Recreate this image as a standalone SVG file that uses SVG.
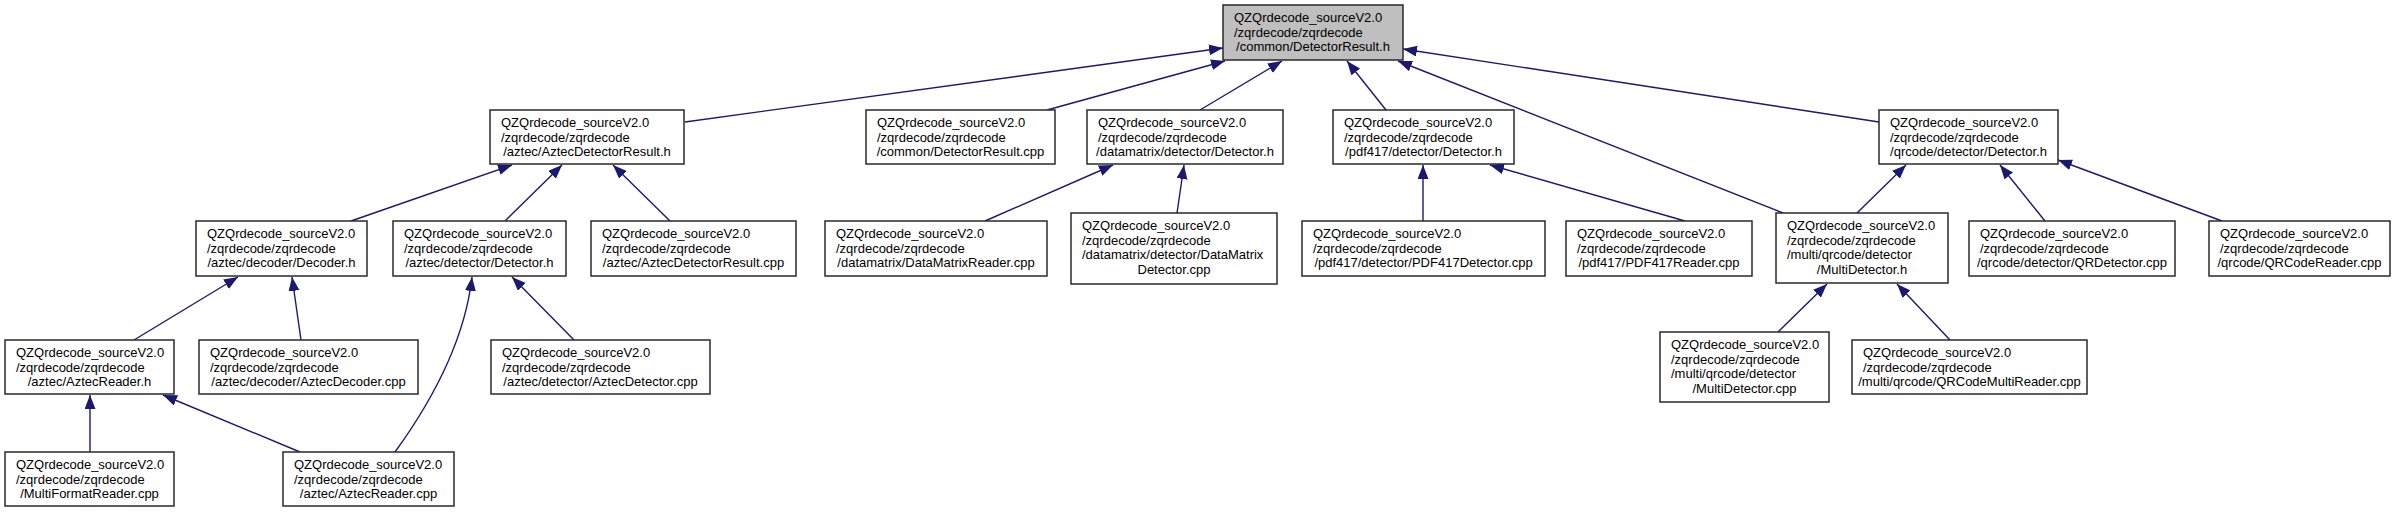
<svg xmlns="http://www.w3.org/2000/svg" width="2401" height="512" viewBox="0 0 2401 512">
<defs>
<style>
.box{fill:#ffffff;stroke:#2a2a2a;stroke-width:1.5}
.root{fill:#bfbfbf;stroke:#2a2a2a;stroke-width:1.5}
.t{font-family:"Liberation Sans",Arial,sans-serif;font-size:13px;fill:#000000}
.c{text-anchor:middle}
.e{fill:none;stroke:#191970;stroke-width:1.4;marker-end:url(#ah)}
</style>
<marker id="ah" markerUnits="userSpaceOnUse" markerWidth="15" markerHeight="12" refX="14" refY="5.5" orient="auto">
<path d="M0,0 L14,5.5 L0,11 z" fill="#191970"/>
</marker>
</defs>
<rect x="0" y="0" width="2401" height="512" fill="#ffffff"/>
<g id="edges">
<path class="e" d="M685,122 L1223,48"/>
<path class="e" d="M1047,110 L1225,61"/>
<path class="e" d="M1200,110 L1282,61"/>
<path class="e" d="M1386,110 L1347,61"/>
<path class="e" d="M1783,213 L1398,61"/>
<path class="e" d="M1879,122 L1403,49"/>
<path class="e" d="M351,221 L512,165"/>
<path class="e" d="M505,221 L562,165"/>
<path class="e" d="M670,221 L613,165"/>
<path class="e" d="M985,221 L1113,165"/>
<path class="e" d="M1177,213 L1184,165"/>
<path class="e" d="M1423,221 L1423,165"/>
<path class="e" d="M1685,221 L1490,165"/>
<path class="e" d="M1857,213 L1906,165"/>
<path class="e" d="M2045,221 L2000,165"/>
<path class="e" d="M2222,221 L2058,160"/>
<path class="e" d="M134,340 L238,277"/>
<path class="e" d="M301,340 L292,277"/>
<path class="e" d="M574,340 L512,277"/>
<path class="e" d="M395,452 C440,390 466,330 472,277"/>
<path class="e" d="M1778,332 L1827,284"/>
<path class="e" d="M1950,340 L1897,284"/>
<path class="e" d="M90,452 L90,395"/>
<path class="e" d="M300,452 L163,395"/>
</g>
<g id="n1"><rect class="root" x="1223" y="5" width="180" height="55"/><text class="t"><tspan x="1234" y="22">QZQrdecode_sourceV2.0</tspan><tspan x="1234" y="36.5">/zqrdecode/zqrdecode</tspan><tspan class="c" x="1313" y="51">/common/DetectorResult.h</tspan></text></g>
<g id="n2"><rect class="box" x="490" y="110" width="194" height="54"/><text class="t"><tspan x="501" y="127">QZQrdecode_sourceV2.0</tspan><tspan x="501" y="141.5">/zqrdecode/zqrdecode</tspan><tspan class="c" x="587" y="156">/aztec/AztecDetectorResult.h</tspan></text></g>
<g id="n3"><rect class="box" x="866" y="110" width="189" height="54"/><text class="t"><tspan x="877" y="127">QZQrdecode_sourceV2.0</tspan><tspan x="877" y="141.5">/zqrdecode/zqrdecode</tspan><tspan class="c" x="960.5" y="156">/common/DetectorResult.cpp</tspan></text></g>
<g id="n4"><rect class="box" x="1087" y="110" width="196" height="54"/><text class="t"><tspan x="1098" y="127">QZQrdecode_sourceV2.0</tspan><tspan x="1098" y="141.5">/zqrdecode/zqrdecode</tspan><tspan class="c" x="1185" y="156">/datamatrix/detector/Detector.h</tspan></text></g>
<g id="n5"><rect class="box" x="1333" y="110" width="181" height="54"/><text class="t"><tspan x="1344" y="127">QZQrdecode_sourceV2.0</tspan><tspan x="1344" y="141.5">/zqrdecode/zqrdecode</tspan><tspan class="c" x="1423.5" y="156">/pdf417/detector/Detector.h</tspan></text></g>
<g id="n6"><rect class="box" x="1879" y="110" width="179" height="54"/><text class="t"><tspan x="1890" y="127">QZQrdecode_sourceV2.0</tspan><tspan x="1890" y="141.5">/zqrdecode/zqrdecode</tspan><tspan class="c" x="1968.5" y="156">/qrcode/detector/Detector.h</tspan></text></g>
<g id="n7"><rect class="box" x="196" y="221" width="171" height="55"/><text class="t"><tspan x="207" y="238">QZQrdecode_sourceV2.0</tspan><tspan x="207" y="252.5">/zqrdecode/zqrdecode</tspan><tspan class="c" x="281.5" y="267">/aztec/decoder/Decoder.h</tspan></text></g>
<g id="n8"><rect class="box" x="393" y="221" width="173" height="55"/><text class="t"><tspan x="404" y="238">QZQrdecode_sourceV2.0</tspan><tspan x="404" y="252.5">/zqrdecode/zqrdecode</tspan><tspan class="c" x="479.5" y="267">/aztec/detector/Detector.h</tspan></text></g>
<g id="n9"><rect class="box" x="591" y="221" width="205" height="55"/><text class="t"><tspan x="602" y="238">QZQrdecode_sourceV2.0</tspan><tspan x="602" y="252.5">/zqrdecode/zqrdecode</tspan><tspan class="c" x="693.5" y="267">/aztec/AztecDetectorResult.cpp</tspan></text></g>
<g id="n10"><rect class="box" x="825" y="221" width="222" height="55"/><text class="t"><tspan x="836" y="238">QZQrdecode_sourceV2.0</tspan><tspan x="836" y="252.5">/zqrdecode/zqrdecode</tspan><tspan class="c" x="936" y="267">/datamatrix/DataMatrixReader.cpp</tspan></text></g>
<g id="n11"><rect class="box" x="1071" y="213" width="206" height="71"/><text class="t"><tspan x="1082" y="230">QZQrdecode_sourceV2.0</tspan><tspan x="1082" y="244.5">/zqrdecode/zqrdecode</tspan><tspan x="1082" y="259">/datamatrix/detector/DataMatrix</tspan><tspan class="c" x="1174" y="273.5">Detector.cpp</tspan></text></g>
<g id="n12"><rect class="box" x="1302" y="221" width="243" height="55"/><text class="t"><tspan x="1313" y="238">QZQrdecode_sourceV2.0</tspan><tspan x="1313" y="252.5">/zqrdecode/zqrdecode</tspan><tspan class="c" x="1423.5" y="267">/pdf417/detector/PDF417Detector.cpp</tspan></text></g>
<g id="n13"><rect class="box" x="1566" y="221" width="186" height="55"/><text class="t"><tspan x="1577" y="238">QZQrdecode_sourceV2.0</tspan><tspan x="1577" y="252.5">/zqrdecode/zqrdecode</tspan><tspan class="c" x="1659" y="267">/pdf417/PDF417Reader.cpp</tspan></text></g>
<g id="n14"><rect class="box" x="1776" y="213" width="172" height="70"/><text class="t"><tspan x="1787" y="230">QZQrdecode_sourceV2.0</tspan><tspan x="1787" y="244.5">/zqrdecode/zqrdecode</tspan><tspan x="1787" y="259">/multi/qrcode/detector</tspan><tspan class="c" x="1862" y="273.5">/MultiDetector.h</tspan></text></g>
<g id="n15"><rect class="box" x="1969" y="221" width="206" height="55"/><text class="t"><tspan x="1980" y="238">QZQrdecode_sourceV2.0</tspan><tspan x="1980" y="252.5">/zqrdecode/zqrdecode</tspan><tspan class="c" x="2072" y="267">/qrcode/detector/QRDetector.cpp</tspan></text></g>
<g id="n16"><rect class="box" x="2209" y="221" width="181" height="55"/><text class="t"><tspan x="2220" y="238">QZQrdecode_sourceV2.0</tspan><tspan x="2220" y="252.5">/zqrdecode/zqrdecode</tspan><tspan class="c" x="2299.5" y="267">/qrcode/QRCodeReader.cpp</tspan></text></g>
<g id="n17"><rect class="box" x="5" y="340" width="169" height="54"/><text class="t"><tspan x="16" y="357">QZQrdecode_sourceV2.0</tspan><tspan x="16" y="371.5">/zqrdecode/zqrdecode</tspan><tspan class="c" x="89.5" y="386">/aztec/AztecReader.h</tspan></text></g>
<g id="n18"><rect class="box" x="199" y="340" width="219" height="54"/><text class="t"><tspan x="210" y="357">QZQrdecode_sourceV2.0</tspan><tspan x="210" y="371.5">/zqrdecode/zqrdecode</tspan><tspan class="c" x="308.5" y="386">/aztec/decoder/AztecDecoder.cpp</tspan></text></g>
<g id="n19"><rect class="box" x="491" y="340" width="219" height="54"/><text class="t"><tspan x="502" y="357">QZQrdecode_sourceV2.0</tspan><tspan x="502" y="371.5">/zqrdecode/zqrdecode</tspan><tspan class="c" x="600.5" y="386">/aztec/detector/AztecDetector.cpp</tspan></text></g>
<g id="n20"><rect class="box" x="1660" y="332" width="169" height="70"/><text class="t"><tspan x="1671" y="349">QZQrdecode_sourceV2.0</tspan><tspan x="1671" y="363.5">/zqrdecode/zqrdecode</tspan><tspan x="1671" y="378">/multi/qrcode/detector</tspan><tspan class="c" x="1744.5" y="392.5">/MultiDetector.cpp</tspan></text></g>
<g id="n21"><rect class="box" x="1852" y="340" width="235" height="54"/><text class="t"><tspan x="1863" y="357">QZQrdecode_sourceV2.0</tspan><tspan x="1863" y="371.5">/zqrdecode/zqrdecode</tspan><tspan class="c" x="1969.5" y="386">/multi/qrcode/QRCodeMultiReader.cpp</tspan></text></g>
<g id="n22"><rect class="box" x="5" y="452" width="169" height="54"/><text class="t"><tspan x="16" y="469">QZQrdecode_sourceV2.0</tspan><tspan x="16" y="483.5">/zqrdecode/zqrdecode</tspan><tspan class="c" x="89.5" y="498">/MultiFormatReader.cpp</tspan></text></g>
<g id="n23"><rect class="box" x="283" y="452" width="171" height="54"/><text class="t"><tspan x="294" y="469">QZQrdecode_sourceV2.0</tspan><tspan x="294" y="483.5">/zqrdecode/zqrdecode</tspan><tspan class="c" x="368.5" y="498">/aztec/AztecReader.cpp</tspan></text></g>
</svg>
